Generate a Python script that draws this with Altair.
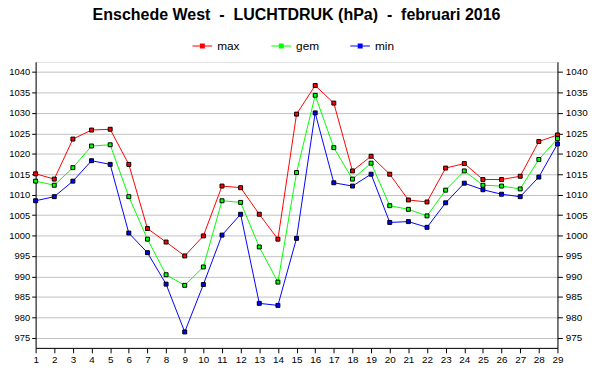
import altair as alt
import pandas as pd

days = list(range(1, 30))
series_names = ["max", "gem", "min"]
series_colors = ["#FF0000", "#00FF00", "#0000FF"]

max_vals = [1015.1, 1013.8, 1023.6, 1025.8, 1026.0, 1017.4, 1001.7, 998.4, 995.0, 999.9,
            1012.1, 1011.7, 1005.2, 999.1, 1029.7, 1036.7, 1032.4, 1015.8, 1019.4, 1015.0,
            1008.7, 1008.2, 1016.5, 1017.6, 1013.7, 1013.7, 1014.5, 1023.0, 1024.6]
gem_vals = [1013.3, 1012.3, 1016.6, 1021.9, 1022.2, 1009.5, 999.1, 990.4, 987.8, 992.3,
            1008.5, 1008.1, 997.2, 988.6, 1015.4, 1034.3, 1021.5, 1013.8, 1017.7, 1007.3,
            1006.4, 1004.8, 1011.1, 1015.8, 1012.3, 1012.1, 1011.4, 1018.6, 1023.7]
min_vals = [1008.5, 1009.5, 1013.3, 1018.3, 1017.4, 1000.6, 995.8, 988.1, 976.4, 988.0,
            1000.1, 1005.2, 983.4, 982.9, 999.3, 1030.0, 1012.9, 1012.1, 1015.0, 1003.2,
            1003.4, 1002.0, 1008.0, 1012.8, 1011.2, 1010.1, 1009.5, 1014.3, 1022.4]

y_ticks = list(range(975, 1045, 5))
title_text = "Enschede West\u00a0\u00a0-\u00a0\u00a0LUCHTDRUK (hPa)\u00a0\u00a0-\u00a0\u00a0februari 2016"

rows = []
for name, vals in zip(series_names, [max_vals, gem_vals, min_vals]):
    for d, v in zip(days, vals):
        rows.append({"dag": d, "serie": name, "waarde": v})
df = pd.DataFrame(rows)

FONT = "Liberation Sans"
ydomain = [972.5, 1042.5]

x_enc = alt.X("dag:Q", scale=alt.Scale(domain=[1, 29], nice=False, zero=False),
              axis=alt.Axis(values=days, title=None, grid=False, tickSize=5, labelPadding=2,
                            labelFontSize=10, labelFlush=False, labelOverlap=False,
                            domainColor="black", tickColor="black", labelColor="black",
                            format="d"))

color_enc = alt.Color("serie:N", sort=series_names,
                      scale=alt.Scale(domain=series_names, range=series_colors),
                      legend=alt.Legend(title=None, orient="none", direction="horizontal",
                                        legendX=159, legendY=-26,
                                        symbolType="M-1,-0.05H1V0.05H-1Z M-0.25,-0.25H0.25V0.25H-0.25Z",
                                        symbolSize=400, symbolStrokeWidth=0,
                                        labelFontSize=12, labelFont=FONT, labelColor="black",
                                        gridAlign="all", columnPadding=31, labelOffset=5))

lines = alt.Chart(df).mark_line(strokeWidth=1).encode(
    x=x_enc,
    y=alt.Y("waarde:Q", scale=alt.Scale(domain=ydomain, nice=False, zero=False),
            axis=alt.Axis(values=y_ticks, title=None, orient="left", grid=True, format="d",
                          gridColor="#C0C0C0", gridWidth=1, tickSize=4, labelPadding=2,
                          labelFontSize=9.5, labelOverlap=False, domainColor="black",
                          tickColor="black", labelColor="black")),
    color=color_enc,
    detail="serie:N",
)

squares = alt.Chart(df).mark_square(size=16, filled=True, stroke="black", strokeWidth=1, opacity=1).encode(
    x=x_enc,
    y=alt.Y("waarde:Q", scale=alt.Scale(domain=ydomain, nice=False, zero=False),
            axis=alt.Axis(values=y_ticks, title=None, orient="right", grid=False, format="d",
                          tickSize=5, labelPadding=3, labelFontSize=10, labelOverlap=False,
                          domainColor="black", tickColor="black", labelColor="black")),
    color=color_enc,
)

chart = alt.layer(lines, squares).resolve_scale(y="independent").properties(
    width=529, height=290,
    padding={"left": 28, "top": 52, "right": 35, "bottom": 30},
    autosize=alt.AutoSizeParams(type="none"),
    title=alt.TitleParams(title_text, anchor="middle", frame="group", fontSize=16.2,
                          font=FONT, fontWeight="bold", color="black",
                          baseline="alphabetic", offset=0),
).configure_view(stroke="black", strokeWidth=1).configure(
    font=FONT, background="white"
)

chart.save("out.html", embed_options={"renderer": "svg", "actions": False})
